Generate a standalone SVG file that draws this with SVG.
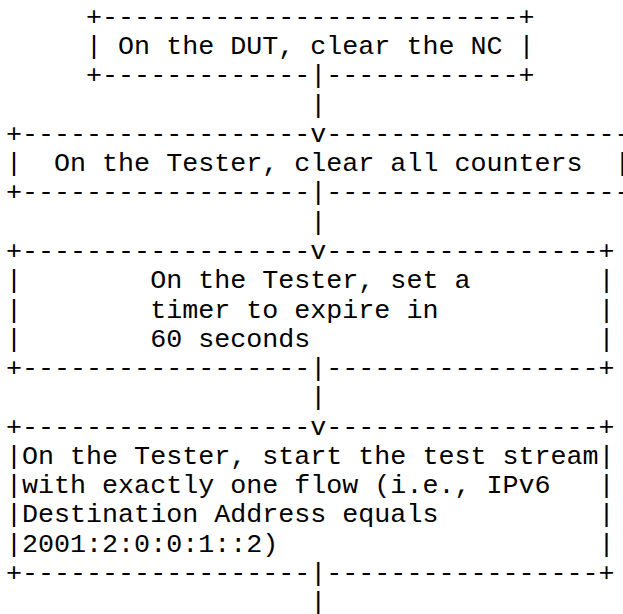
<svg xmlns="http://www.w3.org/2000/svg" width="623" height="614" viewBox="0 0 623 614">
<style>
text { font-family: "Liberation Mono", "Courier New", monospace; font-size: 26.7px; fill: #000; white-space: pre; }
</style>
<rect width="623" height="614" fill="#fff"/>
<g id="node-dut-clear-nc">
<text x="6" y="24.7" xml:space="preserve">     +--------------------------+</text>
<text x="6" y="53.98" xml:space="preserve">     | On the DUT, clear the NC |</text>
<text x="6" y="83.26" xml:space="preserve">     +-------------|------------+</text>
</g>
<g id="node-tester-clear-counters">
<text x="6" y="141.82" xml:space="preserve">+------------------v-------------------+</text>
<text x="6" y="171.1" xml:space="preserve">|  On the Tester, clear all counters  |</text>
<text x="6" y="200.38" xml:space="preserve">+------------------|-------------------+</text>
</g>
<g id="node-tester-set-timer">
<text x="6" y="258.94" xml:space="preserve">+------------------v-----------------+</text>
<text x="6" y="288.22" xml:space="preserve">|        On the Tester, set a        |</text>
<text x="6" y="317.5" xml:space="preserve">|        timer to expire in          |</text>
<text x="6" y="346.78" xml:space="preserve">|        60 seconds                  |</text>
<text x="6" y="376.06" xml:space="preserve">+------------------|-----------------+</text>
</g>
<g id="node-tester-start-stream">
<text x="6" y="434.62" xml:space="preserve">+------------------v-----------------+</text>
<text x="6" y="463.9" xml:space="preserve">|On the Tester, start the test stream|</text>
<text x="6" y="493.18" xml:space="preserve">|with exactly one flow (i.e., IPv6   |</text>
<text x="6" y="522.46" xml:space="preserve">|Destination Address equals          |</text>
<text x="6" y="551.74" xml:space="preserve">|2001:2:0:0:1::2)                    |</text>
<text x="6" y="581.02" xml:space="preserve">+------------------|-----------------+</text>
</g>
<g id="connectors">
<text x="6" y="112.54" xml:space="preserve">                   |</text>
<text x="6" y="229.66" xml:space="preserve">                   |</text>
<text x="6" y="405.34" xml:space="preserve">                   |</text>
<text x="6" y="610.3" xml:space="preserve">                   |</text>
</g>
</svg>
